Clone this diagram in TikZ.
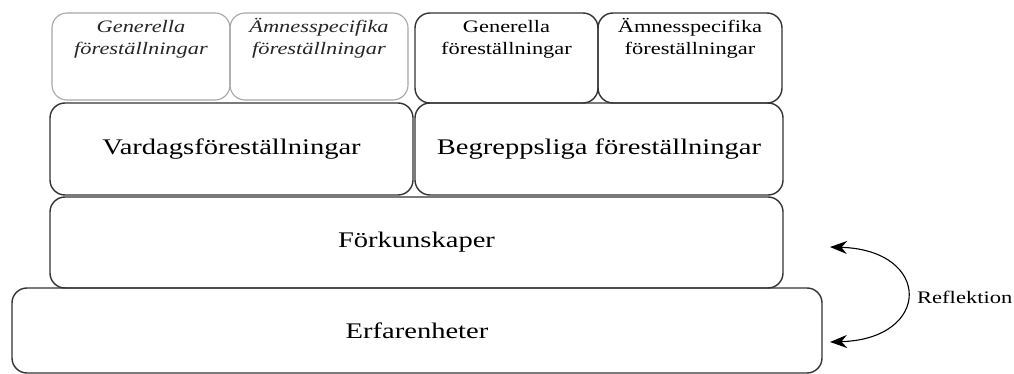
\documentclass[tikz,border=0pt]{standalone}
\usepackage{fontspec}
\setmainfont{Liberation Serif}
\newfontfamily\widefont[FakeStretch=1.28]{Liberation Serif}
\usetikzlibrary{arrows.meta}
\newcommand\topbox[3]{\parbox[t][#2][t]{#1}{\centering\rule{0pt}{15pt}#3}}
\begin{document}
\begin{tikzpicture}[x=1pt,y=-1pt,
  box/.style={draw=black!80, line width=1.4pt, rounded corners=15pt, inner sep=0pt},
  graybox/.style={draw=black!35, line width=1.1pt, rounded corners=15pt, inner sep=0pt, text=black!85},
  bigtext/.style={font=\widefont\fontsize{22.3}{26}\selectfont},
  smalltext/.style={font=\widefont\fontsize{17.5}{22}\selectfont},
  reflect/.style={font=\widefont\fontsize{17.6}{20}\selectfont, inner sep=0pt},
  reflarrow/.style={{Stealth[length=17pt,width=13pt]}-{Stealth[length=17pt,width=13pt]}, line width=1.1pt}
]
\useasboundingbox (0,0) rectangle (1014,374);
% top small boxes
\node[graybox, smalltext, minimum width=178pt, minimum height=87pt, inner ysep=5pt] (g1) at (141,56.5)
  {\topbox{178pt}{77pt}{\itshape Generella\\föreställningar}};
\node[graybox, smalltext, minimum width=178pt, minimum height=87pt, inner ysep=5pt] (g2) at (319,56.5)
  {\topbox{178pt}{77pt}{\itshape Ämnesspecifika\\föreställningar}};
\node[box, smalltext, minimum width=183pt, minimum height=90pt, inner ysep=5pt] (b1) at (506.5,58)
  {\topbox{183pt}{80pt}{Generella\\föreställningar}};
\node[box, smalltext, minimum width=184pt, minimum height=90pt, inner ysep=5pt] (b2) at (690,58)
  {\topbox{184pt}{80pt}{Ämnesspecifika\\föreställningar}};
% middle boxes
\node[box, bigtext, minimum width=363pt, minimum height=92pt] (vard) at (231.5,149) {Vardagsföreställningar};
\node[box, bigtext, minimum width=368pt, minimum height=92pt] (begr) at (599,149) {Begreppsliga föreställningar};
% base boxes
\node[box, bigtext, minimum width=733pt, minimum height=91pt] (fork) at (416.5,242.5) {Förkunskaper};
\node[box, bigtext, minimum width=810pt, minimum height=85pt] (erf) at (417,330.5) {Erfarenheter};
% reflection arrow
\coordinate (a1) at (830,247);
\coordinate (a2) at (830,342);
\draw[reflarrow] (a1) .. controls (932,250) and (932,339) .. (a2);
\node[reflect, anchor=west] (refl) at (917,297) {Reflektion};
\end{tikzpicture}
\end{document}
